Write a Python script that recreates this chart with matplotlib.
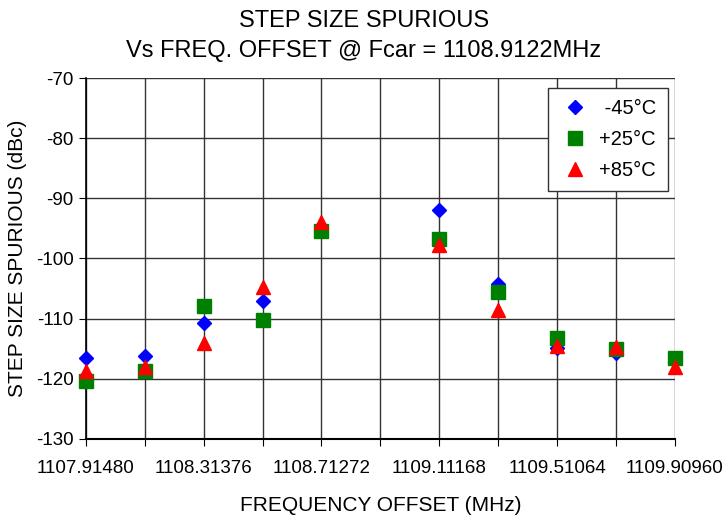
import numpy as np
import matplotlib
matplotlib.use('Agg')
import matplotlib.pyplot as plt

plt.rcParams['font.family'] = ['Liberation Sans', 'DejaVu Sans']
plt.rcParams['axes.unicode_minus'] = False

# frequency offset points (MHz)
freq_start = 1107.91480
freq_step = 0.19948
freq = [freq_start + i * freq_step for i in range(11)]
tick_labels = ['1107.91480', '', '1108.31376', '', '1108.71272', '',
               '1109.11168', '', '1109.51064', '', '1109.90960']

# spur levels (dBc); index 5 has no data
minus45 = [-116.6, -116.2, -110.8, -107.0, np.nan, np.nan, -92.0, -104.2, -114.9, -115.8, -116.9]
plus25 = [-120.4, -118.7, -107.9, -110.3, -95.4, np.nan, -96.8, -105.6, -113.2, -115.0, -116.6]
plus85 = [-118.7, -118.0, -114.0, -104.8, -94.0, np.nan, -97.7, -108.5, -114.5, -114.8, -118.1]

fig = plt.figure(figsize=(7.28, 5.2), dpi=100)
ax = fig.add_axes([0.118, 0.156, 0.809, 0.694])

ax.plot(freq, minus45, linestyle='', marker='D', markersize=7, color='#0000ff', label=' -45°C',
        zorder=3, clip_on=False)
ax.plot(freq, plus25, linestyle='', marker='s', markersize=10, color='#008000', label='+25°C',
        zorder=3, clip_on=False)
ax.plot(freq, plus85, linestyle='', marker='^', markersize=10, color='#ff0000', label='+85°C',
        zorder=3, clip_on=False)

ax.set_xlim(freq[0], freq[-1])
ax.set_ylim(-130, -70)
ax.set_xticks(freq)
ax.set_xticklabels(tick_labels)
ax.set_yticks(range(-130, -69, 10))
ax.grid(True, color='#333333', linewidth=1.0)
ax.set_axisbelow(True)
for s in ['top', 'right']:
    ax.spines[s].set_visible(False)
ax.spines['left'].set_linewidth(1.2)
ax.spines['bottom'].set_linewidth(1.5)
ax.tick_params(axis='both', labelsize=13.5, length=5, direction='out')
ax.tick_params(axis='x', pad=10)
ax.tick_params(axis='y', pad=4)

ax.set_xlabel('FREQUENCY OFFSET (MHz)', fontsize=15, labelpad=14)
ax.set_ylabel('STEP SIZE SPURIOUS (dBc)', fontsize=15, labelpad=6)
fig.suptitle('STEP SIZE SPURIOUS\nVs FREQ. OFFSET @ Fcar = 1108.9122MHz', fontsize=17, y=0.98,
             linespacing=1.45)

leg = ax.legend(loc='upper right', bbox_to_anchor=(0.988, 0.972), borderaxespad=0, fontsize=14.5,
                fancybox=False, framealpha=1, edgecolor='#333333', handletextpad=0.4,
                labelspacing=0.6, borderpad=0.55, handlelength=1.6)
leg.get_frame().set_linewidth(1.0)

plt.savefig('out.png', dpi=100)
